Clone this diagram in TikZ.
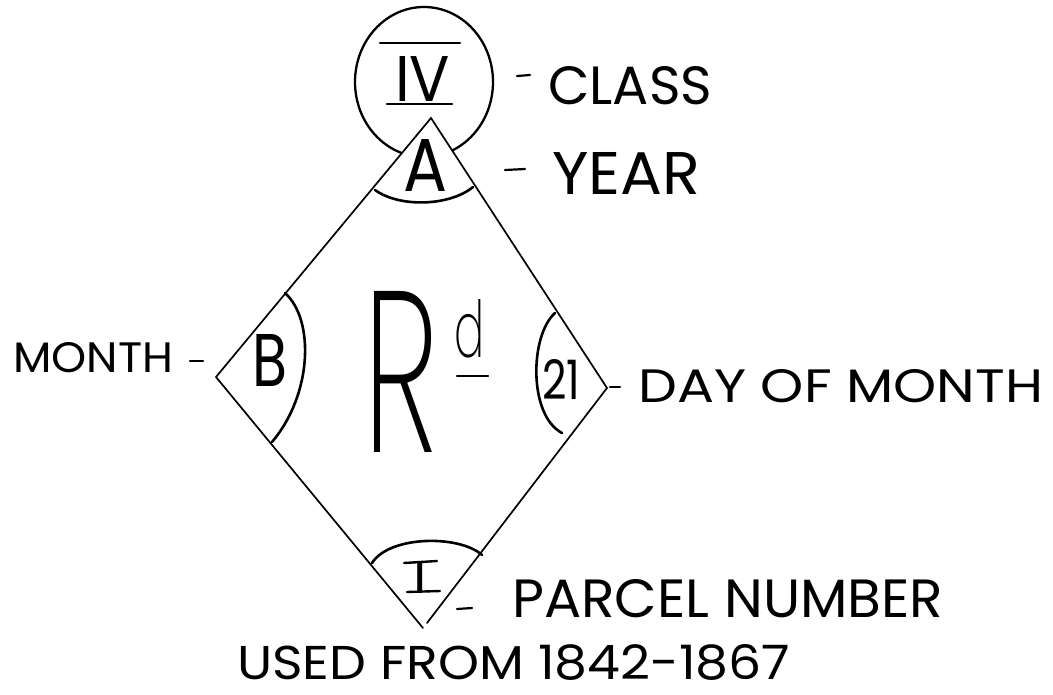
\documentclass[tikz,border=0pt]{standalone}
\usepackage{fontspec}
\usepackage{graphicx}
\setmainfont{Poppins}
\IfFontExistsTF{Poppins ExtraLight}{\newfontfamily\thinhand{Poppins ExtraLight}}{%
  \IfFontExistsTF{Poppins Light}{\newfontfamily\thinhand{Poppins Light}}{%
    \IfFontExistsTF{Poppins Thin}{\newfontfamily\thinhand{Poppins Thin}}{%
      \newfontfamily\thinhand{Poppins}}}}
\IfFontExistsTF{Poppins Medium}{\newfontfamily\midhand{Poppins Medium}}{\newfontfamily\midhand{Poppins}}
\newcommand{\hw}[3]{\resizebox{#1pt}{#2pt}{#3}}
\tikzset{
  lbl/.style={inner sep=0pt, anchor=south west},
  edge/.style={line width=1.7pt, line cap=round, line join=miter},
  bow/.style={line width=2.6pt, line cap=round},
  tick/.style={line width=2.2pt, line cap=round},
  bar/.style={line width=2.4pt, line cap=round}
}
\begin{document}
\begin{tikzpicture}[x=1pt,y=-1pt]
\useasboundingbox (0,0) rectangle (1053,694);
% circle (class)
\draw[line width=2.3pt] (424,82) ellipse [x radius=69, y radius=75];
% diamond
\coordinate (top) at (431,118);
\coordinate (lft) at (216,377);
\coordinate (rgt) at (607,388);
\coordinate (botL) at (423,628);
\coordinate (botR) at (427,623);
\fill[white] (top) -- (rgt) -- (botR) -- (botL) -- (lft) -- cycle;
\draw[edge] (botR) -- (rgt) -- (top) -- (lft) -- (botL);
% inner arcs
\draw[bow] (375,190) .. controls (400,208) and (450,206) .. (473,187);
\draw[bow] (285,293) .. controls (315,320) and (312,395) .. (272,442);
\draw[bow] (555,313) .. controls (530,335) and (528,415) .. (562,433);
\draw[bow] (372,563) .. controls (390,535) and (460,535) .. (482,555);
% inner letters
\node[lbl] (iv) at (395,102) {\hw{55}{45}{IV}};
\draw[bar] (380,43) -- (460,43);
\draw[bar] (387,104) -- (452,104);
\node[lbl] (a) at (403,192) {\hw{44}{52}{A}};
\node[lbl] (b) at (252,387) {\hw{35}{52}{B}};
\node[lbl] (r) at (363,453) {\hw{75}{161}{\thinhand R}};
\node[lbl] (d) at (454,358) {\hw{30}{58}{\thinhand d}};
\draw[bar] (457,376) -- (488,376);
\node[lbl] (n21) at (542,400) {\hw{38}{40}{21}};
\node[inner sep=0pt, anchor=south] (pi) at (420,592) {\resizebox{!}{30pt}{\midhand I}};
\draw[bar] (404,563) -- (437,561);
\draw[bar] (407,592) -- (440,591);
% labels
\node[lbl] (class) at (548,105) {\hw{164}{38}{CLASS}};
\node[lbl] (year) at (552,195) {\hw{148}{42}{YEAR}};
\node[lbl] (month) at (13,373) {\hw{160}{30}{MONTH}};
\node[lbl] (day) at (638,403) {\hw{405}{33}{DAY OF MONTH}};
\node[lbl] (parcel) at (512,618) {\hw{431}{38}{PARCEL NUMBER}};
\node[lbl] (used) at (237,681) {\hw{553}{35}{USED FROM 1842-1867}};
% dashes
\draw[tick] (517,76) -- (530,75);
\draw[tick] (505,170) -- (525,169);
\draw[tick] (190,361) -- (203,361);
\draw[tick] (610,387) -- (620,387);
\draw[tick] (457,609) -- (472,608);
\end{tikzpicture}
\end{document}
